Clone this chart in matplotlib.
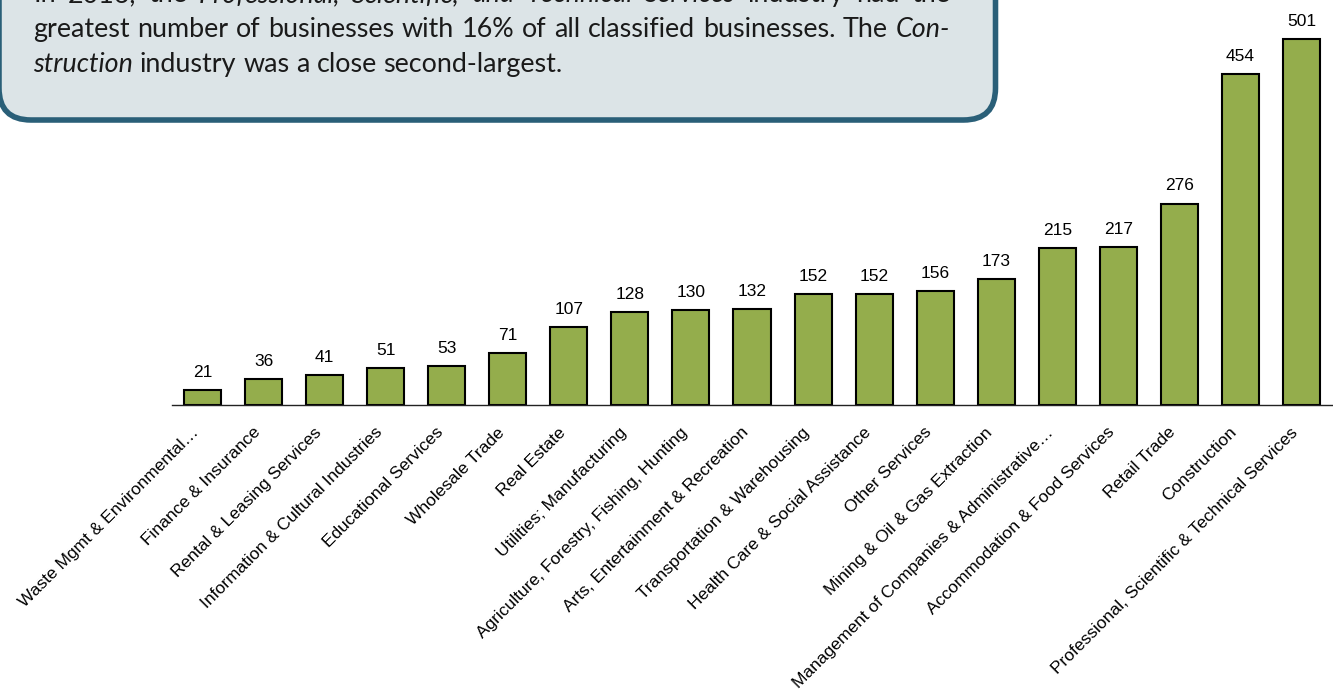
import matplotlib
matplotlib.use("Agg")
import matplotlib.pyplot as plt
from matplotlib.patches import FancyBboxPatch
from matplotlib.transforms import ScaledTranslation

categories = [
    "Waste Mgmt & Environmental…",
    "Finance & Insurance",
    "Rental & Leasing Services",
    "Information & Cultural Industries",
    "Educational Services",
    "Wholesale Trade",
    "Real Estate",
    "Utilities; Manufacturing",
    "Agriculture, Forestry, Fishing, Hunting",
    "Arts, Entertainment & Recreation",
    "Transportation & Warehousing",
    "Health Care & Social Assistance",
    "Other Services",
    "Mining & Oil & Gas Extraction",
    "Management of Companies & Administrative…",
    "Accommodation & Food Services",
    "Retail Trade",
    "Construction",
    "Professional, Scientific & Technical Services",
]
businesses = [21, 36, 41, 51, 53, 71, 107, 128, 130, 132, 152, 152, 156,
              173, 215, 217, 276, 454, 501]

# Callout text: each line is a list of (text, style) runs
callout_lines = [
    [("In 2016, the", "normal"),
     ("Professional, Scientific, and Technical Services", "italic"),
     ("industry had the", "normal")],
    [("greatest number of businesses with 16% of all classified businesses. The", "normal"),
     ("Con-", "italic")],
    [("struction", "italic"),
     ("industry was a close second-largest.", "normal")],
]

BAR_COLOR = "#94AD4C"
BOX_FILL = "#DCE4E7"
BOX_EDGE = "#2A5F78"

W, H, DPI = 1333, 696, 100
fig = plt.figure(figsize=(W / DPI, H / DPI), dpi=DPI)
fig.patch.set_facecolor("white")

# ---- bar chart ----
ax = fig.add_axes([172 / W, (H - 405) / H, (1332 - 172) / W, 405 / H])
x = list(range(len(categories)))
ax.bar(x, businesses, width=0.607, color=BAR_COLOR, edgecolor="black",
       linewidth=1.5, zorder=2)
ax.set_xlim(-0.5, len(categories) - 0.5)
ax.set_ylim(0, 554.8)
for xi, v in zip(x, businesses):
    ax.annotate(f"{v}", (xi, v), xytext=(0, 9.4), textcoords="offset points",
                ha="center", va="baseline", fontsize=12.5,
                family="Liberation Sans", color="black")

for s in ("top", "left", "right"):
    ax.spines[s].set_visible(False)
ax.spines["bottom"].set_color("#222222")
ax.spines["bottom"].set_linewidth(1.0)
ax.set_yticks([])
ax.set_xticks(x)
ax.set_xticklabels(categories, rotation=45, ha="right", va="center",
                   rotation_mode="anchor", fontsize=12.5,
                   family="Liberation Sans")
ax.tick_params(axis="x", length=0, pad=18)
shift = ScaledTranslation(-6 / DPI, 0, fig.dpi_scale_trans)
for lab in ax.get_xticklabels():
    lab.set_transform(lab.get_transform() + shift)

# ---- callout box (pixel coordinates, y downward) ----
ov = fig.add_axes([0, 0, 1, 1], zorder=5)
ov.set_xlim(0, W)
ov.set_ylim(H, 0)
ov.axis("off")
ov.patch.set_alpha(0)

box = FancyBboxPatch((-1, -120), 996.5, 240, boxstyle="round,pad=0,rounding_size=32",
                     facecolor=BOX_FILL, edgecolor=BOX_EDGE, linewidth=4.0)
ov.add_patch(box)

renderer = fig.canvas.get_renderer()
FONT = "Lato"
left_x, right_x = 33, 950
baselines = [2, 37, 72]


def text_width(s, style, size):
    t = ov.text(0, 0, s, fontsize=size, style=style, family=FONT)
    w = t.get_window_extent(renderer).width
    t.remove()
    return w


def line_words(line):
    words = []
    for run, style in line:
        for w in run.split(" "):
            words.append((w, style))
    return words


def natural_width(line, size):
    words = line_words(line)
    sp = text_width("x x", "normal", size) - text_width("xx", "normal", size)
    return sum(text_width(w, st, size) for w, st in words) + sp * (len(words) - 1)


size = 17.0
nw = natural_width(callout_lines[1], size)
size = size * 910.0 / nw

space = text_width("x x", "normal", size) - text_width("xx", "normal", size)
for i, (line, base) in enumerate(zip(callout_lines, baselines)):
    words = line_words(line)
    widths = [text_width(w, st, size) for w, st in words]
    if i < len(callout_lines) - 1:
        gap = (right_x - left_x - sum(widths)) / (len(words) - 1)
    else:
        gap = space
    xpos = left_x
    for (w, st), wd in zip(words, widths):
        ov.text(xpos, base, w, fontsize=size, style=st, family=FONT,
                color="#1a1a1a", ha="left", va="baseline")
        xpos += wd + gap

fig.savefig("out.png", dpi=DPI, facecolor="white")
